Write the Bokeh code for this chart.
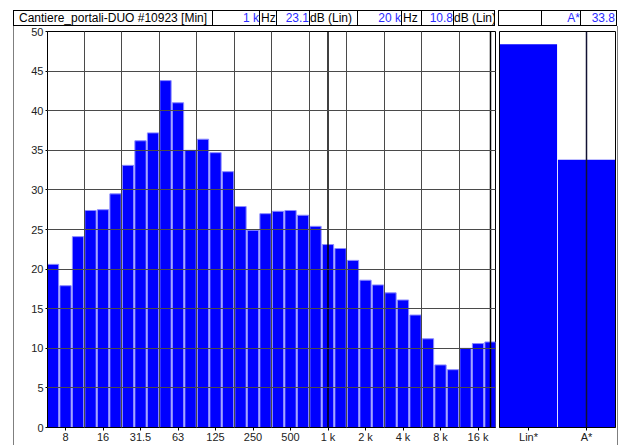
from bokeh.plotting import figure
from bokeh.models import FixedTicker, Span, Div, FactorRange, Range1d
from bokeh.layouts import column, row
from bokeh.embed import file_html
from bokeh.resources import INLINE

# ---------------- data ----------------
bands = ["6.3", "8", "10", "12.5", "16", "20", "25", "31.5", "40", "50", "63", "80",
         "100", "125", "160", "200", "250", "315", "400", "500", "630", "800",
         "1 k", "1.25 k", "1.6 k", "2 k", "2.5 k", "3.15 k", "4 k", "5 k", "6.3 k",
         "8 k", "10 k", "12.5 k", "16 k", "20 k"]
levels = [20.6, 17.9, 24.1, 27.4, 27.5, 29.5, 33.1, 36.2, 37.2, 43.8, 41.0, 35.0,
          36.4, 34.7, 32.3, 27.9, 24.9, 27.0, 27.3, 27.4, 26.8, 25.4,
          23.1, 22.6, 21.1, 18.6, 18.0, 17.0, 16.1, 14.2, 11.2,
          7.9, 7.3, 10.0, 10.6, 10.8]
octave_ticks = ["8", "16", "31.5", "63", "125", "250", "500", "1 k", "2 k", "4 k", "8 k", "16 k"]
y_ticks = [0, 5, 10, 15, 20, 25, 30, 35, 40, 45, 50]
cursor_bands = ["1 k", "20 k"]
sum_labels = ["Lin*", "A*"]
sum_levels = [48.4, 33.8]
sum_cursor = "A*"
title_text = "Cantiere_portali-DUO #10923 [Min]"
unit_freq = "Hz"
unit_level = "dB (Lin)"

FONT = "Liberation Sans"
BLUE = "#0000ff"
TXT_BLUE = "#2a2aff"
Y_MAX = 50
H_HEAD = 26
H_ROW = 419

# ---------------- header (HTML) ----------------
c1, c2 = cursor_bands
v1 = levels[bands.index(c1)]
v2 = levels[bands.index(c2)]
v_sum = sum_levels[sum_labels.index(sum_cursor)]

cells = [
    (199, title_text, "left", "#000", 5, False),
    (47, c1, "right", TXT_BLUE, 0, False),
    (17, unit_freq, "left", "#000", 1, False),
    (33, f"{v1:.1f}", "right", TXT_BLUE, 0, False),
    (48, unit_level, "left", "#000", 0, False),
    (44, c2, "right", TXT_BLUE, 0, False),
    (20, unit_freq, "left", "#000", 1, False),
    (32, f"{v2:.1f}", "right", TXT_BLUE, 0, False),
    (42, unit_level, "left", "#000", 0, True),
    None,
    (43, "", "left", "#000", 0, False),
    (39, sum_cursor, "right", TXT_BLUE, 0, False),
    (37, f"{v_sum:.1f}", "right", TXT_BLUE, 1, True),
]
parts = []
for c in cells:
    if c is None:
        parts.append('<div style="width:3px;height:16px;flex:none"></div>')
        continue
    w, t, al, col, pad, last = c
    rb = "border-right:1px solid #000;" if last else ""
    padcss = f"padding-left:{pad}px;" if al == "left" else f"padding-right:{pad}px;"
    parts.append(
        f'<div style="flex:none;box-sizing:border-box;width:{w}px;height:16px;'
        f'border-top:1px solid #000;border-bottom:1px solid #000;border-left:1px solid #000;{rb}'
        f'text-align:{al};color:{col};{padcss}line-height:15px;white-space:nowrap;overflow:hidden;'
        f'font-family:\'{FONT}\',Arial,sans-serif;font-size:12px">{t}</div>')
header_html = ('<div style="position:relative;width:621px;height:26px">'
               '<div style="position:absolute;left:13px;top:10px;width:1px;height:16px;background:#7f7f7f"></div>'
               '<div style="display:flex;position:absolute;left:13px;top:10px;padding:0;height:16px">'
               + "".join(parts) + '</div></div>')
header = Div(text=header_html, width=621, height=H_HEAD, margin=0)

left_div = Div(text=f'<div style="margin-left:13px;width:1px;height:{H_ROW}px;background:#7f7f7f"></div>',
               width=14, height=H_ROW, margin=0)
right_div = Div(text=f'<div style="margin-left:1px;width:1px;height:{H_ROW}px;background:#7f7f7f"></div>',
                width=5, height=H_ROW, margin=0)


def style_axis(ax, tick_out):
    ax.major_label_text_font = FONT
    ax.major_label_text_font_size = "11px"
    ax.major_label_text_color = "#222222"
    ax.axis_line_color = "black"
    ax.major_tick_line_color = "black"
    ax.major_tick_out = tick_out
    ax.major_tick_in = 0
    ax.minor_tick_line_color = None


# ---------------- main spectrum ----------------
idx = list(range(len(bands)))
p = figure(width=482, height=H_ROW, x_range=Range1d(-0.44, 35.4), y_range=Range1d(0, Y_MAX),
           output_backend="svg", toolbar_location=None,
           min_border_left=33, min_border_right=1, min_border_top=5, min_border_bottom=16)
p.vbar(x=idx, top=levels, width=0.9, fill_color=BLUE, line_color="#8a8aff", line_width=1)

p.xaxis.ticker = FixedTicker(ticks=[bands.index(t) for t in octave_ticks])
p.xaxis.major_label_overrides = {bands.index(t): t for t in octave_ticks}
p.yaxis.ticker = FixedTicker(ticks=y_ticks)
style_axis(p.xaxis[0], 3)
style_axis(p.yaxis[0], 2)
p.xaxis.major_label_standoff = 0
p.yaxis.major_label_standoff = 2

p.xgrid.ticker = FixedTicker(ticks=[bands.index(t) + 1.5 for t in octave_ticks[:-1]])
p.ygrid.ticker = FixedTicker(ticks=y_ticks[1:-1])
for g in (p.xgrid[0], p.ygrid[0]):
    g.grid_line_color = "#4a4a4a"
    g.grid_line_width = 1
    g.level = "overlay"

for cb in cursor_bands:
    p.add_layout(Span(location=bands.index(cb), dimension="height",
                      line_color="black", line_width=1.5))

p.outline_line_color = "black"
p.outline_line_width = 1
p.background_fill_color = "white"

# ---------------- summary panel ----------------
p2 = figure(width=120, height=H_ROW, x_range=FactorRange(factors=sum_labels, range_padding=0),
            y_range=Range1d(0, Y_MAX), y_axis_location=None,
            output_backend="svg", toolbar_location=None,
            min_border_left=3, min_border_right=1, min_border_top=5, min_border_bottom=16)
p2.vbar(x=sum_labels, top=sum_levels, width=0.985, fill_color=BLUE, line_color=BLUE, line_width=0)
p2.line(x=[sum_cursor, sum_cursor], y=[0, Y_MAX], line_color="#111133", line_width=1.5)
p2.xgrid.visible = False
p2.ygrid.visible = False
style_axis(p2.xaxis[0], 3)
p2.xaxis.major_label_standoff = 0
p2.outline_line_color = "black"
p2.outline_line_width = 1

layout = column(header, row(left_div, p, p2, right_div, spacing=0), spacing=0)

open("out.html", "w").write(file_html(layout, INLINE))
